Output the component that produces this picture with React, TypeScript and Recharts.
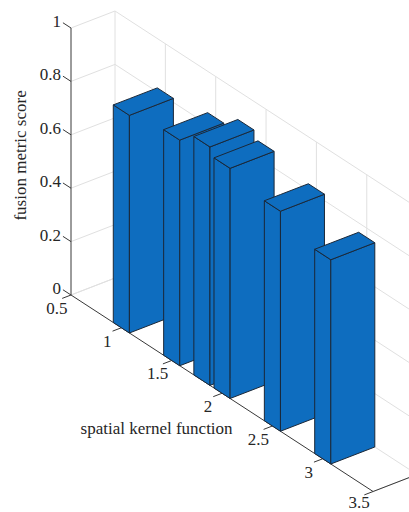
import { ComposedChart, XAxis, YAxis, Area, Scatter, ReferenceLine } from 'recharts';

const kernelPositions = [1, 1.5, 1.8, 2, 2.5, 3];
const metricScores = [0.815, 0.845, 0.893, 0.862, 0.824, 0.765];
const zTicks = [0, 0.2, 0.4, 0.6, 0.8, 1];
const zTickLabels = ['0', '0.2', '0.4', '0.6', '0.8', '1'];
const xTicks = [0.5, 1, 1.5, 2, 2.5, 3, 3.5];
const xTickLabels = ['0.5', '1', '1.5', '2', '2.5', '3', '3.5'];

const W = 409;
const H = 512;
const BLUE = '#0E6DBF';
const EDGE = '#1b2838';
const GRID = '#e0e0e0';
const AXIS = '#383838';
const TEXT = '#262626';
const FONT = '"Liberation Serif", "DejaVu Serif", "Times New Roman", serif';

// oblique view: p = kernel axis, d = depth (0 front .. 1 back), z = score
// the chart's x axis is the screen-horizontal coordinate, its y axis the screen-vertical one
const PX_P = 100.7;
const PX_Z = 267;
const ORIGIN_X = 71;
const ORIGIN_Y = 295;
const K_D = 44 / PX_P;
const S_P = 65.5 / PX_Z;
const S_D = 17 / PX_Z;

const proj = (p: number, d: number, z: number) => ({
  u: p + K_D * d,
  v: z - S_P * (p - 0.5) + S_D * d,
});

const uDomain = [0.5 - ORIGIN_X / PX_P, 0.5 + (W - ORIGIN_X) / PX_P];
const vDomain = [-(H - ORIGIN_Y) / PX_Z, ORIGIN_Y / PX_Z];

const minGap = Math.min(...kernelPositions.slice(1).map((p, i) => p - kernelPositions[i]));
const barW = 0.8 * minGap;

type Pt = { u: number; v: number };
const lerp = (a: Pt, b: Pt, u: number) => a.v + ((b.v - a.v) * (u - a.u)) / (b.u - a.u);

// a face with two vertical edges: a,b bottom corners, h height
const sideFace = (a: Pt, b: Pt, h: number) => [
  { u: a.u, lo: a.v, hi: a.v },
  { u: a.u, lo: a.v, hi: a.v + h },
  { u: b.u, lo: b.v, hi: b.v + h },
  { u: b.u, lo: b.v, hi: b.v },
];

const topFace = (a: Pt, b: Pt, c: Pt, d: Pt) => [
  { u: a.u, lo: a.v, hi: a.v },
  { u: b.u, lo: b.v, hi: lerp(a, d, b.u) },
  { u: d.u, lo: lerp(b, c, d.u), hi: d.v },
  { u: c.u, lo: c.v, hi: c.v },
];

const barFaces = kernelPositions.map((p, i) => {
  const h = metricScores[i];
  const pL = p - barW / 2;
  const pR = p + barW / 2;
  return [
    sideFace(proj(pL, 0, 0), proj(pR, 0, 0), h),
    sideFace(proj(pR, 0, 0), proj(pR, 1, 0), h),
    topFace(proj(pL, 0, h), proj(pR, 0, h), proj(pR, 1, h), proj(pL, 1, h)),
  ];
});

const seg = (a: Pt, b: Pt) => [
  { x: a.u, y: a.v },
  { x: b.u, y: b.v },
];

const gridSegs = [
  ...zTicks.map((z) => seg(proj(0.5, 1, z), proj(3.5, 1, z))),
  ...zTicks.map((z) => seg(proj(0.5, 0, z), proj(0.5, 1, z))),
  ...xTicks.map((p) => seg(proj(p, 1, 0), proj(p, 1, 1))),
  ...xTicks.map((p) => seg(proj(p, 0, 0), proj(p, 1, 0))),
];

const axisSegs = [
  seg(proj(0.5, 0, 0), proj(3.5, 0, 0)),
  seg(proj(0.5, 0, 0), proj(0.5, 0, 1)),
  seg(proj(3.5, 0, 0), proj(3.5, 1, 0)),
  ...zTicks.map((z) => seg(proj(0.5, 0, z), proj(0.42, 0, z))),
  ...xTicks.map((p) => seg(proj(p, 0, 0), proj(p, -0.2, 0))),
];

const labels = [
  ...zTicks.map((z, i) => ({ ...proj(0.4, 0, z), text: zTickLabels[i], anchor: 'end', rotate: 0 })),
  ...xTicks.map((p, i) => ({ ...proj(p, -0.32, -0.03), text: xTickLabels[i], anchor: 'middle', rotate: 0 })),
  { ...proj(0, 0, 0.4), text: 'fusion metric score', anchor: 'middle', rotate: -90 },
  { ...proj(1.35, 0, -0.29), text: 'spatial kernel function', anchor: 'middle', rotate: 0 },
];

const LabelText = (props: any) => {
  const { cx, payload } = props;
  // keep the lowest tick label inside the picture
  const cy = Math.min(props.cy, H - 10);
  return (
    <text
      x={cx}
      y={cy}
      textAnchor={payload.anchor}
      dominantBaseline="central"
      style={{ fontFamily: FONT, fontSize: 17, fill: TEXT }}
      transform={payload.rotate ? `rotate(${payload.rotate} ${cx} ${cy})` : undefined}
    >
      {payload.text}
    </text>
  );
};

export default function App() {
  return (
    <div style={{ position: 'absolute', left: 0, top: 0, width: W, height: H, background: '#fff', fontFamily: FONT }}>
      <ComposedChart width={W} height={H} margin={{ top: 0, right: 0, bottom: 0, left: 0 }}>
        <XAxis type="number" dataKey="u" domain={uDomain} allowDataOverflow hide />
        <YAxis type="number" dataKey="v" domain={vDomain} allowDataOverflow hide />
        {gridSegs.map((s, i) => (
          <ReferenceLine key={`g${i}`} segment={s} stroke={GRID} strokeWidth={1} ifOverflow="visible" zIndex={-80} />
        ))}
        {axisSegs.map((s, i) => (
          <ReferenceLine key={`a${i}`} segment={s} stroke={AXIS} strokeWidth={1} ifOverflow="visible" zIndex={-60} />
        ))}
        {barFaces.flatMap((faces, i) =>
          faces.map((rows, j) => (
            <Area
              key={`b${i}-${j}`}
              data={rows}
              dataKey={(r: any) => [r.lo, r.hi]}
              type="linear"
              fill={BLUE}
              fillOpacity={1}
              stroke={EDGE}
              strokeWidth={1}
              dot={false}
              activeDot={false}
              isAnimationActive={false}
            />
          )),
        )}
        <Scatter data={labels} dataKey="v" shape={LabelText} isAnimationActive={false} />
      </ComposedChart>
    </div>
  );
}
